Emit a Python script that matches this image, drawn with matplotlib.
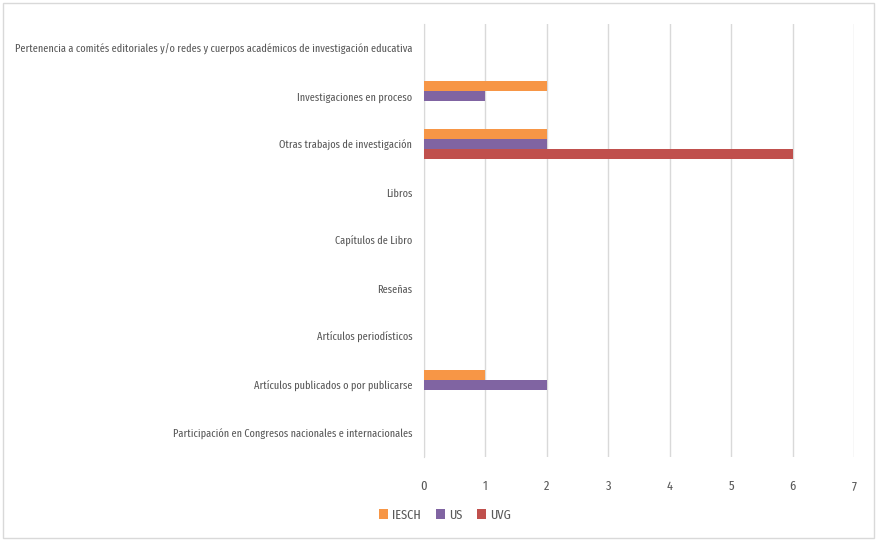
import matplotlib
matplotlib.use("Agg")
import matplotlib.pyplot as plt
from matplotlib.patches import Rectangle
import numpy as np

plt.rcParams['font.family'] = ['Fira Sans Extra Condensed', 'Roboto Condensed', 'DejaVu Sans']
plt.rcParams['font.weight'] = 'normal'

categories = [
    "Participación en Congresos nacionales e internacionales",
    "Artículos publicados o por publicarse",
    "Artículos periodísticos",
    "Reseñas",
    "Capítulos de Libro",
    "Libros",
    "Otras trabajos de investigación",
    "Investigaciones en proceso",
    "Pertenencia a comités editoriales y/o redes y cuerpos académicos de investigación educativa",
]
series_names = ["IESCH", "US", "UVG"]
iesch = [0, 1, 0, 0, 0, 0, 2, 2, 0]
us = [0, 2, 0, 0, 0, 0, 2, 1, 0]
uvg = [0, 0, 0, 0, 0, 0, 6, 0, 0]
colors = ["#F79646", "#8064A2", "#C0504D"]
xticks = [0, 1, 2, 3, 4, 5, 6, 7]

fig = plt.figure(figsize=(8.77, 5.41), dpi=100)

# size the text so the longest label spans like in the reference (~395 px)
probe = fig.text(0, 0, categories[-1], fontsize=10)
fig.canvas.draw()
w = probe.get_window_extent().width
probe.remove()
fs = 10 * 395 / w

ax = fig.add_axes([424/877, 1-457/541, (854-424)/877, (457-24)/541])

y = np.arange(len(categories))
h = 0.208
for vals, off, c, name in zip([iesch, us, uvg], [h, 0, -h], colors, series_names):
    ax.barh(y + off, vals, height=h, color=c, label=name, linewidth=0, zorder=3)

ax.set_xlim(0, 7)
ax.set_ylim(-0.5, len(categories) - 0.5)
ax.set_xticks(xticks)
ax.set_xticklabels([str(t) for t in xticks])
ax.set_yticks(y)
ax.set_yticklabels(categories)
ax.grid(axis='x', color='#D9D9D9', linewidth=1, zorder=0)
for s in ['top', 'right', 'bottom']:
    ax.spines[s].set_visible(False)
ax.spines['left'].set_color('#D9D9D9')
ax.tick_params(axis='both', length=0, labelcolor='#595959')
ax.tick_params(axis='y', pad=8.5, labelsize=fs)
ax.tick_params(axis='x', pad=16.5, labelsize=fs * 1.2)

leg = fig.legend(loc='center', bbox_to_anchor=(445/877, 1-515/541), ncol=3, frameon=False,
                 fontsize=fs * 1.2, handlelength=0.7, handleheight=0.7, handletextpad=0.3, columnspacing=1.1)
for t in leg.get_texts():
    t.set_color('#595959')

fig.patches.append(Rectangle((3/877, 3/541), 1-6/877, 1-6/541, transform=fig.transFigure,
                             fill=False, edgecolor='#D9D9D9', linewidth=1))

fig.savefig("out.png", dpi=100)
